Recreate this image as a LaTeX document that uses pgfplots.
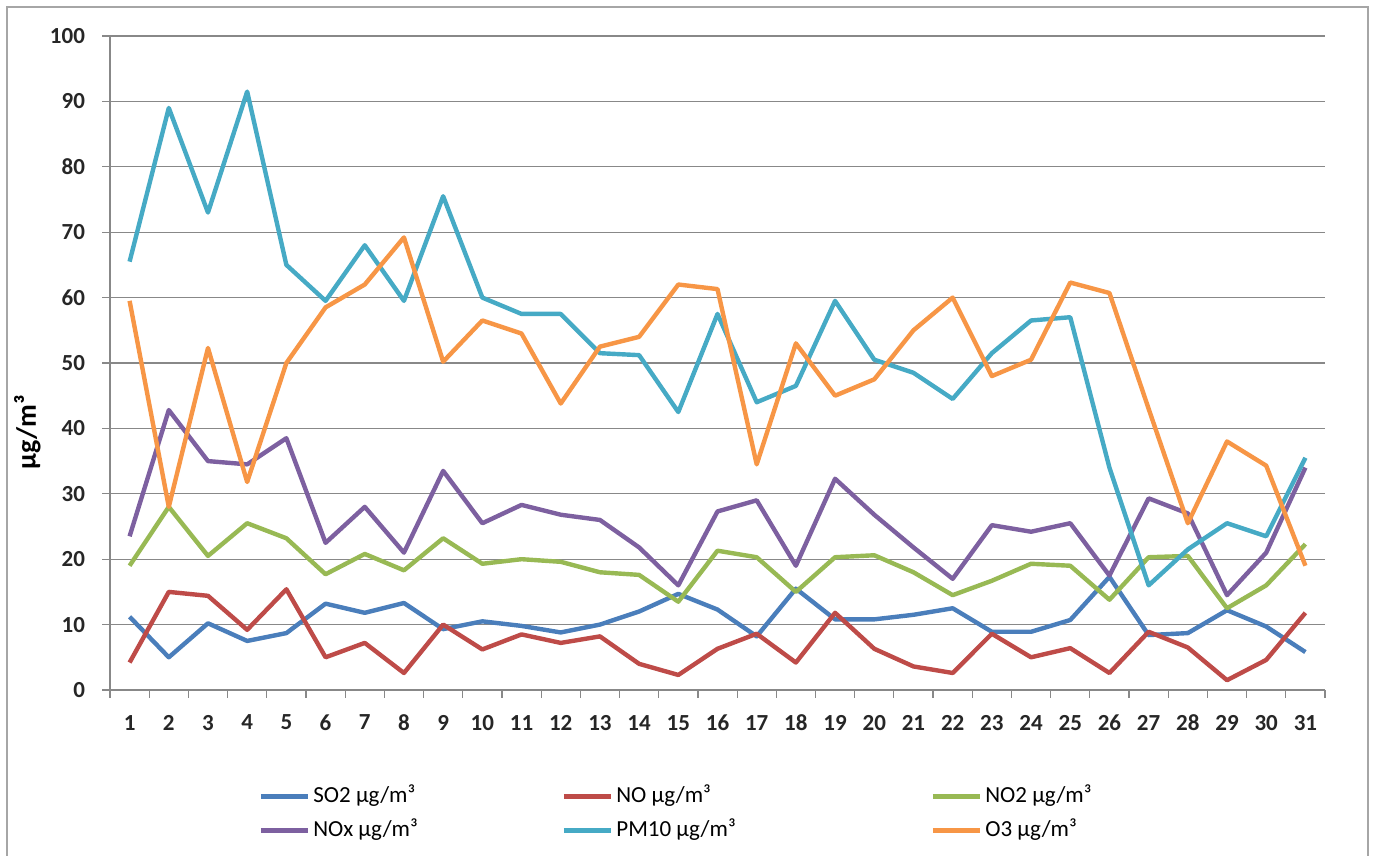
\documentclass[border=0pt]{standalone}
\usepackage{pgfplots}
\usepackage{pgfplotstable}
\usepackage{fontspec}
\setmainfont{Carlito}
\pgfplotsset{compat=1.18}

\definecolor{cso}{HTML}{4A7EBB}
\definecolor{cno}{HTML}{BE4B48}
\definecolor{cnoii}{HTML}{98B954}
\definecolor{cnox}{HTML}{7D60A0}
\definecolor{cpm}{HTML}{46AAC5}
\definecolor{coiii}{HTML}{F79646}
\definecolor{cgrid}{HTML}{888888}

% daily means, µg/m3
\pgfplotstableread{
day so2  no   no2  nox  pm10 o3
1   11.2 4.2  19.0 23.5 65.5 59.5
2   5.0  15.0 28.0 42.8 89.0 28.0
3   10.2 14.4 20.5 35.0 73.0 52.3
4   7.5  9.2  25.5 34.5 91.5 31.8
5   8.7  15.4 23.2 38.5 65.0 50.0
6   13.2 5.0  17.7 22.5 59.5 58.5
7   11.8 7.2  20.8 28.0 68.0 62.0
8   13.3 2.6  18.3 21.0 59.5 69.2
9   9.3  10.0 23.2 33.5 75.5 50.2
10  10.5 6.2  19.3 25.5 60.0 56.5
11  9.8  8.5  20.0 28.3 57.5 54.5
12  8.8  7.2  19.6 26.8 57.5 43.8
13  10.0 8.2  18.0 26.0 51.5 52.5
14  12.0 4.0  17.6 21.8 51.2 54.0
15  14.7 2.3  13.5 16.0 42.5 62.0
16  12.3 6.3  21.3 27.3 57.5 61.3
17  8.2  8.6  20.3 29.0 44.0 34.5
18  15.5 4.2  15.0 19.0 46.5 53.0
19  10.8 11.8 20.3 32.3 59.5 45.0
20  10.8 6.3  20.6 26.8 50.5 47.5
21  11.5 3.6  18.0 21.8 48.5 55.0
22  12.5 2.6  14.5 17.0 44.5 60.0
23  8.9  8.6  16.7 25.2 51.5 48.0
24  8.9  5.0  19.3 24.2 56.5 50.5
25  10.7 6.4  19.0 25.5 57.0 62.3
26  17.3 2.6  13.8 17.5 34.0 60.7
27  8.4  8.9  20.3 29.3 16.0 43.0
28  8.7  6.5  20.5 27.0 21.5 25.5
29  12.2 1.5  12.5 14.5 25.5 38.0
30  9.7  4.6  16.0 21.0 23.5 34.3
31  5.8  11.8 22.3 34.0 35.5 19.0
}\airdata

\begin{document}
\begin{tikzpicture}
\useasboundingbox (0pt,0pt) rectangle (688pt,428pt);
\draw[black!35, line width=0.8pt] (3.5pt,-10pt) -- (3.5pt,424.5pt) -- (684pt,424.5pt) -- (684pt,-10pt);
\begin{axis}[
  at={(55pt,83pt)}, anchor=south west,
  scale only axis, width=607.5pt, height=327pt,
  xmin=0.5, xmax=31.5, ymin=0, ymax=100,
  xtick={1,...,31}, major x tick style={draw=none},
  minor xtick={0.5,1.5,...,31.5},
  ytick={0,10,...,100},
  ymajorgrids, grid style={draw=cgrid, line width=0.6pt},
  axis x line*=bottom, axis y line*=left,
  axis line style={-, draw=cgrid, line width=0.6pt},
  tick align=outside, major tick length=4pt, minor tick length=4pt,
  every tick/.style={draw=cgrid, line width=0.6pt},
  tick label style={font=\bfseries\fontsize{11.5}{13}\selectfont, text=black!85},
  yticklabel style={xshift=-5pt},
  xticklabel style={yshift=-5pt},
  /pgf/number format/assume math mode=true,
  ylabel={µg/m³},
  ylabel style={font=\bfseries\fontsize{14}{16}\selectfont, at={(axis description cs:-0.068,0.394)}, anchor=center},
  legend columns=3,
  legend style={at={(0.1218,-0.146)}, anchor=north west, draw=none, inner sep=0pt,
    font=\fontsize{11.5}{13}\selectfont,
    nodes={inner sep=0pt, text height=8.5pt, text depth=2.5pt, anchor=west},
    row sep=6pt,
    /tikz/every odd column/.style={column sep=1.5pt},
    /tikz/every even column/.style={column sep=0pt}},
  legend image code/.code={\draw[#1, line width=2.5pt] (0pt,0pt) -- (23.5pt,0pt);},
  every axis plot/.append style={line width=2.2pt, line join=round, no markers},
]
\addplot[cso] table[x=day, y=so2] {\airdata};
\addlegendentry{\makebox[124pt][l]{SO2 µg/m³}}
\addplot[cno] table[x=day, y=no] {\airdata};
\addlegendentry{\makebox[157pt][l]{NO µg/m³}}
\addplot[cnoii] table[x=day, y=no2] {\airdata};
\addlegendentry{NO2 µg/m³}
\addplot[cnox] table[x=day, y=nox] {\airdata};
\addlegendentry{\makebox[124pt][l]{NOx µg/m³}}
\addplot[cpm] table[x=day, y=pm10] {\airdata};
\addlegendentry{\makebox[157pt][l]{PM10 µg/m³}}
\addplot[coiii] table[x=day, y=o3] {\airdata};
\addlegendentry{O3 µg/m³}
\end{axis}
\end{tikzpicture}
\end{document}
